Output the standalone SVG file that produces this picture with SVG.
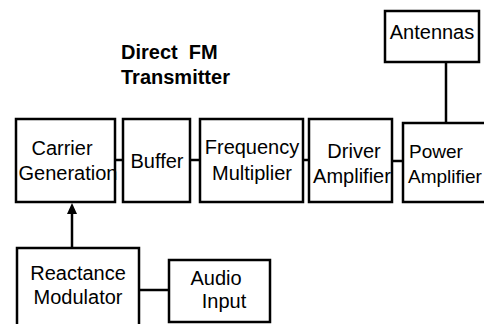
<svg xmlns="http://www.w3.org/2000/svg" width="484" height="324" viewBox="0 0 484 324">
<defs>
<style>
.box{fill:#fff;stroke:#000;stroke-width:2.5}
.t{font-family:"Liberation Sans",Arial,sans-serif;font-size:20px;fill:#000}
.title{font-family:"Liberation Sans",Arial,sans-serif;font-size:20px;font-weight:bold;fill:#000;white-space:pre}
.ln{stroke:#000;stroke-width:2.5;fill:none}
</style>
</defs>
<rect width="484" height="324" fill="#fff"/>
<g id="title">
<text class="title" x="121" y="59">Direct  FM</text>
<text class="title" x="121" y="84">Transmitter</text>
</g>
<g id="connectors">
<line class="ln" x1="115" y1="160" x2="123" y2="160"/>
<line class="ln" x1="190" y1="160" x2="200" y2="160"/>
<line class="ln" x1="303" y1="160" x2="309" y2="160"/>
<line class="ln" x1="392" y1="161" x2="403" y2="161"/>
<line class="ln" x1="446" y1="62" x2="446" y2="123"/>
<line class="ln" x1="139" y1="290" x2="169" y2="290"/>
<line class="ln" x1="72" y1="248" x2="72" y2="212"/>
<path d="M67,214 L72,203 L77,214 Z" fill="#000"/>
</g>
<g id="antennas">
<rect class="box" x="385" y="11" width="94" height="51"/>
<text class="t" x="432" y="39" text-anchor="middle">Antennas</text>
</g>
<g id="carrier">
<rect class="box" x="16" y="119" width="99" height="83"/>
<text class="t" x="62" y="155" text-anchor="middle">Carrier</text>
<text class="t" x="68" y="180" text-anchor="middle">Generation</text>
</g>
<g id="buffer">
<rect class="box" x="123" y="119" width="67" height="83"/>
<text class="t" x="157" y="168" text-anchor="middle">Buffer</text>
</g>
<g id="freq">
<rect class="box" x="200" y="119" width="103" height="83"/>
<text class="t" x="252" y="154" text-anchor="middle">Frequency</text>
<text class="t" x="252" y="180" text-anchor="middle">Multiplier</text>
</g>
<g id="driver">
<rect class="box" x="309" y="119" width="83" height="83"/>
<text class="t" x="354" y="158" text-anchor="middle">Driver</text>
<text class="t" x="352" y="183" text-anchor="middle">Amplifier</text>
</g>
<g id="power">
<rect class="box" x="403" y="123" width="90" height="79"/>
<text class="t" x="409" y="158" style="font-size:19px">Power</text>
<text class="t" x="408" y="183" style="font-size:19px">Amplifier</text>
</g>
<g id="reactance">
<rect class="box" x="17" y="248" width="122" height="90"/>
<text class="t" x="78" y="280" text-anchor="middle">Reactance</text>
<text class="t" x="78" y="304" text-anchor="middle">Modulator</text>
</g>
<g id="audio">
<rect class="box" x="169" y="260" width="101" height="62"/>
<text class="t" x="216" y="285" text-anchor="middle">Audio</text>
<text class="t" x="224" y="308" text-anchor="middle">Input</text>
</g>
</svg>
